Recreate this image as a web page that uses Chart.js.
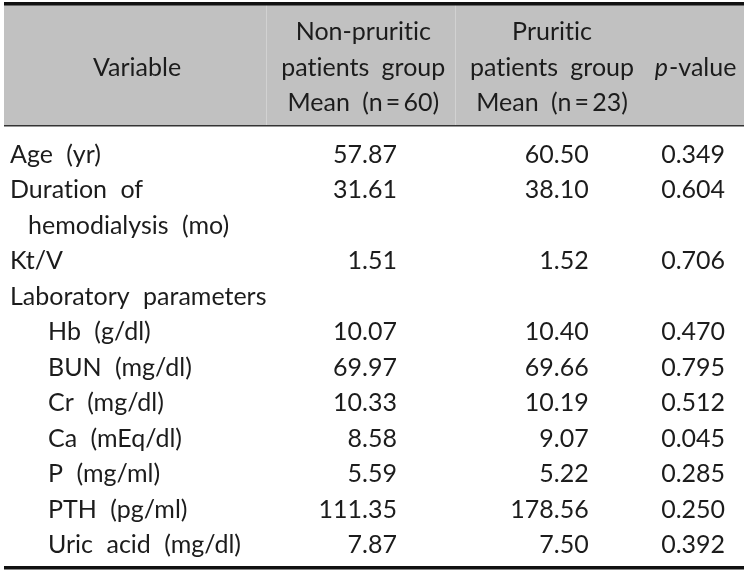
<!DOCTYPE html>
<html>
<head>
<meta charset="utf-8">
<script src="https://cdn.jsdelivr.net/npm/chart.js@4.4.1/dist/chart.umd.min.js"></script>
<style>
  html, body { margin: 0; padding: 0; background: #fff; }
  #wrap { width: 749px; height: 574px; }
</style>
</head>
<body>
<div id="wrap"><canvas id="table" width="749" height="574"></canvas></div>
<script>
// table rows (the wrapped "Duration of hemodialysis" label takes two rows)
const variables = ['Age (yr)', 'Duration of', 'hemodialysis (mo)', 'Kt/V', 'Laboratory parameters',
  'Hb (g/dl)', 'BUN (mg/dl)', 'Cr (mg/dl)', 'Ca (mEq/dl)', 'P (mg/ml)', 'PTH (pg/ml)', 'Uric acid (mg/dl)'];
const indentLevel = [0, 0, 1, 0, 0, 2, 2, 2, 2, 2, 2, 2];
const nonPruritic = [57.87, 31.61, null, 1.51, null, 10.07, 69.97, 10.33, 8.58, 5.59, 111.35, 7.87];
const pruritic    = [60.50, 38.10, null, 1.52, null, 10.40, 69.66, 10.19, 9.07, 5.22, 178.56, 7.50];
const pValues     = [0.349, 0.604, null, 0.706, null, 0.470, 0.795, 0.512, 0.045, 0.285, 0.250, 0.392];
const headerCols  = [
  ['Variable'],
  ['Non-pruritic', 'patients group', 'Mean (n\u2009=\u200960)'],
  ['Pruritic', 'patients group', 'Mean (n\u2009=\u200923)'],
  ['p-value']
];

const fontFamily = 'Lato, "Open Sans", sans-serif';
const fontSize = 25;
const ink = '#1c1c1c';
const headerGrey = '#c1c1c1';

// column anchors on the hidden 0-100 x scale
const colRight  = [53.0, 78.6, 96.8];
const colCenter = [18.3, 48.5, 73.7, 92.8];
const indentPx  = [10, 28, 48];

// Lato joins "ti" into a ligature, the original type does not
const noLig = s => s.replace(/t(?=i)/g, 't\u200C');

function points(values, col) {
  const out = [];
  values.forEach((v, i) => { if (v !== null) out.push({ x: colRight[col], y: variables[i], v: v }); });
  return out;
}

const tablePlugin = {
  id: 'tableDraw',
  beforeDraw(chart) {
    const ctx = chart.ctx;
    const xs = chart.scales.x;
    const left = 4, right = 744;
    ctx.save();
    // header band
    ctx.fillStyle = headerGrey;
    ctx.fillRect(left, 5, right - left, 121);
    // faint column dividers inside the header
    ctx.fillStyle = '#d2d2d2';
    ctx.fillRect(266, 5, 1, 121);
    ctx.fillRect(455, 5, 1, 121);
    // rules
    ctx.fillStyle = '#111';
    ctx.fillRect(left, 2, right - left, 3.5);
    ctx.fillStyle = '#333';
    ctx.fillRect(left, 125, right - left, 1.5);
    ctx.fillStyle = '#111';
    ctx.fillRect(left, 566, right - left, 3.5);

    // header text
    ctx.fillStyle = ink;
    ctx.textBaseline = 'middle';
    ctx.textAlign = 'center';
    ctx.font = fontSize + 'px ' + fontFamily;
    ctx.wordSpacing = '6px';
    const lineY = [32, 67.5, 103];
    headerCols.forEach((lines, c) => {
      const cx = xs.getPixelForValue(colCenter[c]);
      if (lines.length === 1) {
        if (lines[0] === 'p-value') {
          ctx.textAlign = 'left';
          ctx.font = 'italic ' + fontSize + 'px ' + fontFamily;
          const pw = ctx.measureText('p').width;
          ctx.font = fontSize + 'px ' + fontFamily;
          const rw = ctx.measureText('-value').width;
          const x0 = cx - (pw + rw) / 2;
          ctx.font = 'italic ' + fontSize + 'px ' + fontFamily;
          ctx.fillText('p', x0, lineY[1]);
          ctx.font = fontSize + 'px ' + fontFamily;
          ctx.fillText('-value', x0 + pw + 1, lineY[1]);
          ctx.textAlign = 'center';
        } else {
          ctx.fillText(noLig(lines[0]), cx, lineY[1]);
        }
      } else {
        lines.forEach((t, k) => ctx.fillText(noLig(t), cx, lineY[k]));
      }
    });
    ctx.restore();
  },
  afterDraw(chart) {
    const ctx = chart.ctx;
    const ys = chart.scales.y;
    ctx.save();
    ctx.fillStyle = ink;
    ctx.textBaseline = 'middle';
    ctx.font = fontSize + 'px ' + fontFamily;
    ctx.wordSpacing = '7px';
    // variable names
    ctx.textAlign = 'left';
    variables.forEach((v, i) => {
      ctx.fillText(noLig(v), indentPx[indentLevel[i]], ys.getPixelForValue(i));
    });
    // values, placed at each point element
    ctx.textAlign = 'right';
    chart.data.datasets.forEach((ds, di) => {
      const meta = chart.getDatasetMeta(di);
      meta.data.forEach((pt, j) => {
        ctx.fillText(ds.data[j].v.toFixed(ds.digits), pt.x, pt.y);
      });
    });
    ctx.restore();
  }
};

new Chart(document.getElementById('table'), {
  type: 'scatter',
  data: {
    datasets: [
      { label: 'Non-pruritic', data: points(nonPruritic, 0), digits: 2, pointRadius: 0 },
      { label: 'Pruritic', data: points(pruritic, 1), digits: 2, pointRadius: 0 },
      { label: 'p-value', data: points(pValues, 2), digits: 3, pointRadius: 0 }
    ]
  },
  options: {
    responsive: false,
    animation: false,
    layout: { padding: { top: 137, bottom: 11, left: 0, right: 0 } },
    scales: {
      x: { type: 'linear', min: 0, max: 100, display: false },
      y: { type: 'category', labels: variables, offset: true, display: false }
    },
    plugins: { legend: { display: false }, tooltip: { enabled: false } }
  },
  plugins: [tablePlugin]
});
</script>
</body>
</html>
